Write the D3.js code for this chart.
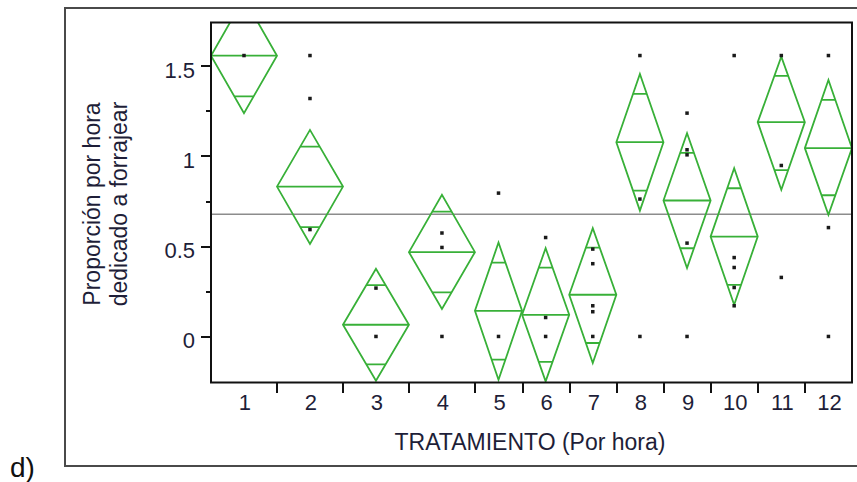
<!DOCTYPE html>
<html>
<head>
<meta charset="utf-8">
<script src="https://cdn.jsdelivr.net/npm/d3@7"></script>
<style>
  body { margin: 0; background: #fff; }
  svg { display: block; font-family: "Liberation Sans", Arial, sans-serif; }
  .axis path, .axis line { stroke: #111; stroke-width: 2px; shape-rendering: crispEdges; }
  .axis text { fill: #1e1e38; font-size: 22px; }
</style>
</head>
<body>
<svg id="chart" width="857" height="482"></svg>
<script>
/* global d3 */

// categories and sample sizes (x widths are proportional to n)
const tratamientos = ["1", "2", "3", "4", "5", "6", "7", "8", "9", "10", "11", "12"];
const nPorGrupo = [7, 7, 7, 7, 5, 5, 5, 5, 5, 5, 5, 5];

// group means and 95% CI ends read from the diamonds
const medias   = [1.555, 0.830, 0.065, 0.467, 0.142, 0.120, 0.231, 1.076, 0.753, 0.553, 1.187, 1.043];
const icSup    = [1.874, 1.144, 0.375, 0.784, 0.520, 0.489, 0.600, 1.454, 1.126, 0.932, 1.550, 1.421];
const icInf    = [1.237, 0.513, -0.245, 0.152, -0.240, -0.249, -0.147, 0.697, 0.379, 0.175, 0.812, 0.674];

// observations per group
const obs = [
  [1.556],
  [1.556, 1.318, 0.592],
  [0.268, 0],
  [0.573, 0.493, 0],
  [0.794, 0],
  [0.548, 0.105, 0],
  [0.484, 0.403, 0.170, 0.137, 0],
  [1.556, 0.761, 0],
  [1.237, 1.034, 1.006, 0.517, 0],
  [1.556, 0.437, 0.382, 0.271, 0.170],
  [1.556, 0.947, 0.327],
  [1.556, 0.603, 0]
];

const mediaGeneral = 0.677;
const yTicks = [0, 0.5, 1, 1.5];
const yMinorTicks = [0.25, 0.75, 1.25];

/*--------------------------------------------------------------------------*/

let svg = d3.select("#chart");

let plot = { left: 211, right: 852, top: 22.5, bottom: 382.5 };

// cumulative counts -> x boundaries
let bounds = [0];
nPorGrupo.forEach(function(n) { bounds.push(bounds[bounds.length - 1] + n); });

let x = d3.scaleLinear()
  .domain([0, bounds[bounds.length - 1]])
  .range([plot.left, plot.right]);

let y = d3.scaleLinear()
  .domain([-0.255, 1.739])
  .range([plot.bottom, plot.top]);

// outer frame (right side runs off the picture)
svg.append("rect")
  .attr("x", 65).attr("y", 8)
  .attr("width", 830).attr("height", 458)
  .attr("fill", "none")
  .attr("stroke", "#4a4a4a")
  .attr("stroke-width", 2);

svg.append("text")
  .attr("x", 10).attr("y", 477)
  .attr("font-size", 28)
  .attr("fill", "#111")
  .text("d)");

// clip for the diamonds
svg.append("clipPath")
  .attr("id", "plot-clip")
  .append("rect")
  .attr("x", plot.left).attr("y", plot.top)
  .attr("width", plot.right - plot.left)
  .attr("height", plot.bottom - plot.top);

// grand mean line
svg.append("line")
  .attr("x1", plot.left).attr("x2", plot.right)
  .attr("y1", y(mediaGeneral)).attr("y2", y(mediaGeneral))
  .attr("stroke", "#8c8c8c")
  .attr("stroke-width", 1.5);

let g = svg.append("g").attr("clip-path", "url(#plot-clip)");

let grupos = tratamientos.map(function(t, i) {
  return {
    t: t, i: i,
    x0: x(bounds[i]), x1: x(bounds[i + 1]),
    media: medias[i], sup: icSup[i], inf: icInf[i]
  };
});

let verde = "#38b038";
let gd = g.selectAll("g.diamante")
  .data(grupos)
  .enter()
  .append("g")
  .attr("class", "diamante")
  .attr("fill", "none")
  .attr("stroke", verde)
  .attr("stroke-width", 1.8);

gd.append("path")
  .attr("d", function(d) {
    let xc = (d.x0 + d.x1) / 2;
    return "M" + d.x0 + "," + y(d.media) +
      "L" + xc + "," + y(d.sup) +
      "L" + d.x1 + "," + y(d.media) +
      "L" + xc + "," + y(d.inf) + "Z";
  });

gd.append("line")
  .attr("x1", function(d) { return d.x0; })
  .attr("x2", function(d) { return d.x1; })
  .attr("y1", function(d) { return y(d.media); })
  .attr("y2", function(d) { return y(d.media); });

// overlap marks at mean +/- halfCI / sqrt(2)
let k = 1 / Math.SQRT2;
[["sup", -1], ["inf", 1]].forEach(function(lado) {
  gd.append("line")
    .attr("x1", function(d) { let w = d.x1 - d.x0; return (d.x0 + d.x1) / 2 - w / 2 * (1 - k); })
    .attr("x2", function(d) { let w = d.x1 - d.x0; return (d.x0 + d.x1) / 2 + w / 2 * (1 - k); })
    .attr("y1", function(d) { return y(d.media + (d[lado[0]] - d.media) * k); })
    .attr("y2", function(d) { return y(d.media + (d[lado[0]] - d.media) * k); });
});

// observation dots
let puntos = [];
obs.forEach(function(vals, i) {
  vals.forEach(function(v) { puntos.push({ i: i, v: v }); });
});
svg.append("g")
  .selectAll("rect")
  .data(puntos)
  .enter()
  .append("rect")
  .attr("x", function(d) { return x((bounds[d.i] + bounds[d.i + 1]) / 2) - 1.75; })
  .attr("y", function(d) { return y(d.v) - 1.75; })
  .attr("width", 3.5).attr("height", 3.5)
  .attr("fill", "#1a1a1a");

// y axis
svg.append("g")
  .attr("class", "axis")
  .attr("transform", "translate(" + plot.left + ",0)")
  .call(d3.axisLeft(y).tickValues(yTicks).tickSize(10).tickPadding(6)
    .tickFormat(function(d) { return String(d); }))
  .call(function(a) { a.select(".domain").remove(); })
  .selectAll("text")
  .attr("dy", "0.52em");

svg.append("g")
  .attr("class", "axis")
  .attr("transform", "translate(" + plot.left + ",0)")
  .call(d3.axisLeft(y).tickValues(yMinorTicks).tickSize(5).tickFormat(""))
  .call(function(a) { a.select(".domain").remove(); });

// x axis: ticks at group boundaries, labels at group centres
let xAxis = svg.append("g")
  .attr("class", "axis")
  .attr("transform", "translate(0," + plot.bottom + ")")
  .call(d3.axisBottom(x).tickValues(bounds.slice(1, -1)).tickSize(10).tickFormat(""));
xAxis.select(".domain").remove();

svg.append("g")
  .attr("class", "axis")
  .selectAll("text")
  .data(grupos)
  .enter()
  .append("text")
  .attr("x", function(d) { return (d.x0 + d.x1) / 2 + 1; })
  .attr("y", 410)
  .attr("text-anchor", "middle")
  .text(function(d) { return d.t; });

// plot frame
svg.append("rect")
  .attr("x", plot.left).attr("y", plot.top)
  .attr("width", plot.right - plot.left)
  .attr("height", plot.bottom - plot.top)
  .attr("fill", "none")
  .attr("stroke", "#111")
  .attr("stroke-width", 2);

// axis titles
svg.append("text")
  .attr("x", 530).attr("y", 450)
  .attr("text-anchor", "middle")
  .attr("font-size", 23)
  .attr("fill", "#1e1e38")
  .text("TRATAMIENTO (Por hora)");

let yTitulo = svg.append("text")
  .attr("transform", "translate(0,204) rotate(-90)")
  .attr("text-anchor", "middle")
  .attr("font-size", 23)
  .attr("fill", "#1e1e38");
yTitulo.append("tspan").attr("x", 0).attr("y", 100).text("Proporción por hora");
yTitulo.append("tspan").attr("x", 0).attr("y", 127).text("dedicado a forrajear");
</script>
</body>
</html>
